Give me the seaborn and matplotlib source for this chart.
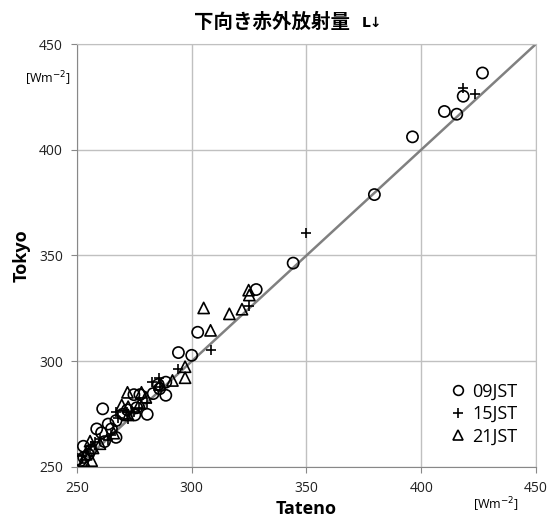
import pandas as pd
import matplotlib.pyplot as plt
import seaborn as sns
from matplotlib.lines import Line2D

# values (Tateno, Tokyo) in W m-2
x09 = [250, 251.5, 253, 252.8, 255, 256, 258.6, 260.7, 261.2, 262, 263.6, 265, 267, 267,
       270, 272, 274.8, 275.2, 277.4, 276, 280.6, 283.2, 285.4, 288.7, 288.7, 286, 294.2,
       300, 302.6, 328.1, 344.2, 379.6, 396.2, 410.1, 415.5, 418.3, 426.7]
y09 = [253.5, 253, 254.5, 259.8, 256, 258, 268, 266.2, 277.5, 262, 270.3, 268, 271.9, 264,
       275, 277, 284.2, 274.6, 284.2, 278, 274.9, 284.7, 289, 290.1, 283.9, 287, 304.1,
       302.8, 313.7, 333.9, 346.4, 378.8, 406.1, 418.1, 416.8, 425.3, 436.3]

x15 = [252, 254, 256, 258, 260, 263.6, 265, 267, 268, 272.3, 272, 275, 277, 280.6, 282.9,
       285.8, 286, 294.1, 308.3, 325.1, 350, 418.3, 423.5]
y15 = [255, 257, 260, 262, 263, 262.8, 265, 276.2, 273, 272.7, 276, 276, 278, 280.1, 290.1,
       292.2, 288, 296.1, 305.3, 326.2, 360.7, 429.1, 426.3]

x21 = [253, 254, 255.7, 257, 256.4, 260, 266, 269.5, 272.3, 272, 272.3, 277.4, 278.1, 280,
       286, 291.6, 297.1, 297.1, 305.2, 308.2, 316.4, 321.9, 324.8, 325.1]
y21 = [253, 256, 262.2, 259, 253, 261, 266, 279.3, 278.5, 285.3, 274.6, 280.1, 285.3, 283,
       289, 290.9, 297.4, 292.2, 325.2, 314.6, 322.4, 324.6, 333.6, 331.3]

ticks = [250, 300, 350, 400, 450]

df = pd.concat([
    pd.DataFrame({'Tateno': x09, 'Tokyo': y09, 'time': '09JST'}),
    pd.DataFrame({'Tateno': x15, 'Tokyo': y15, 'time': '15JST'}),
    pd.DataFrame({'Tateno': x21, 'Tokyo': y21, 'time': '21JST'}),
])

sns.set_style('white')
plt.rcParams['font.family'] = ['Open Sans', 'Noto Sans CJK JP', 'DejaVu Sans']
plt.rcParams['text.color'] = 'black'
plt.rcParams['axes.labelcolor'] = 'black'
plt.rcParams['xtick.labelcolor'] = '#222222'
plt.rcParams['ytick.labelcolor'] = '#222222'

fig = plt.figure(figsize=(5.48, 5.22), dpi=100)
ax = fig.add_axes([0.1405, 0.1054, 0.8375, 0.8103])

# 1:1 line
sns.lineplot(x=[250, 450], y=[250, 450], color='#808080', linewidth=1.8, ax=ax, zorder=2)

styles = {'09JST': 'o', '15JST': '+', '21JST': '^'}
for t, m in styles.items():
    sub = df[df['time'] == t]
    sns.scatterplot(data=sub, x='Tateno', y='Tokyo', marker=m, color='black',
                    s=65 if m != '+' else 60, linewidth=1.2, ax=ax, zorder=3)
    if m != '+':
        ax.collections[-1].set_facecolor('none')
        ax.collections[-1].set_edgecolor('black')

ax.set_xlim(250, 450)
ax.set_ylim(250, 450)
ax.set_xticks(ticks)
ax.set_yticks(ticks)
ax.grid(True, color='#c0c0c0', linewidth=1)
for s in ax.spines.values():
    s.set_color('#c0c0c0')
ax.spines['left'].set_color('#888888')
ax.spines['bottom'].set_color('#888888')
ax.tick_params(axis='both', length=4, color='#888888', labelsize=10, pad=6,
               bottom=True, left=True)
ax.set_xlabel('Tateno', fontsize=13, fontweight='bold', labelpad=3)
ax.set_ylabel('Tokyo', fontsize=13, fontweight='bold', labelpad=6)

fig.text(0.496, 0.958, '下向き赤外放射量', fontsize=14, fontweight='bold',
         ha='center', va='center', family=['Noto Sans CJK JP'])
fig.text(0.661, 0.956, 'L↓', fontsize=10, fontweight='bold', ha='left', va='center',
         family=['DejaVu Sans'])
fig.text(0.088, 0.85, '[Wm$^{-2}$]', fontsize=9, ha='center', va='center')
fig.text(0.905, 0.033, '[Wm$^{-2}$]', fontsize=9, ha='center', va='center')

handles = [Line2D([], [], marker=m, linestyle='none', markerfacecolor='none',
                  markeredgecolor='black', color='black', markersize=7, markeredgewidth=1.2)
           for m in styles.values()]
ax.legend(handles, list(styles.keys()), frameon=False, fontsize=13,
          loc='lower right', bbox_to_anchor=(0.995, 0.012), handletextpad=0.3,
          labelspacing=0.25, handlelength=1.0)

fig.savefig('out.png', dpi=100)
